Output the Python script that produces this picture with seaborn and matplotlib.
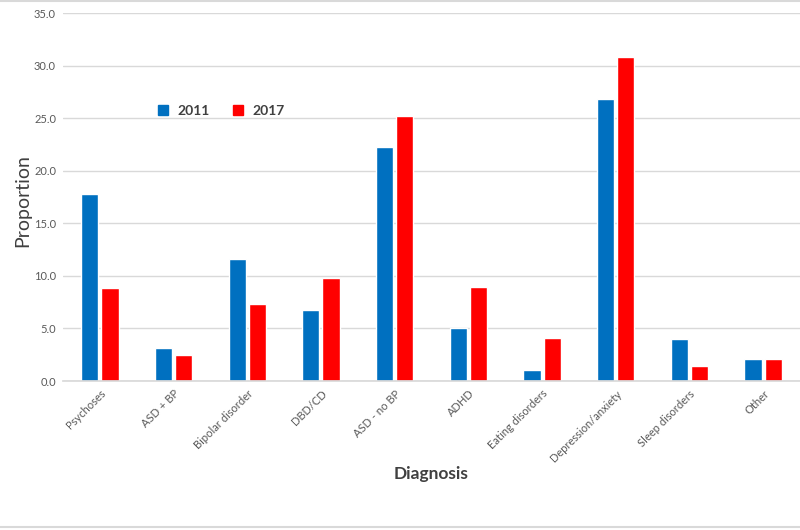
import matplotlib
matplotlib.use('Agg')
import matplotlib.pyplot as plt
import pandas as pd
import seaborn as sns
from matplotlib.lines import Line2D

# Values
diagnoses = ['Psychoses', 'ASD + BP', 'Bipolar disorder', 'DBD/CD', 'ASD - no BP',
             'ADHD', 'Eating disorders', 'Depression/anxiety', 'Sleep disorders', 'Other']
prop_2011 = [17.8, 3.1, 11.6, 6.8, 22.3, 5.0, 1.0, 26.8, 4.0, 2.1]
prop_2017 = [8.8, 2.5, 7.3, 9.8, 25.2, 8.9, 4.1, 30.8, 1.4, 2.1]
years = ['2011', '2017']
colors = ['#0070C0', '#FF0000']
y_ticks = [0, 5, 10, 15, 20, 25, 30, 35]

df = pd.DataFrame({
    'Diagnosis': diagnoses * 2,
    'Proportion': prop_2011 + prop_2017,
    'Year': [years[0]] * len(diagnoses) + [years[1]] * len(diagnoses),
})

sns.set_theme(style='white')
plt.rcParams['font.family'] = ['Lato', 'DejaVu Sans']

fig = plt.figure(figsize=(8, 5.3), dpi=100)
ax = fig.add_axes([63 / 800, 1 - 381 / 530, 737 / 800, 368 / 530])

sns.barplot(data=df, x='Diagnosis', y='Proportion', hue='Year',
            palette=colors, width=0.55, gap=0.15, saturation=1,
            legend=False, ax=ax)

ax.set_ylim(0, 35)
ax.set_xlim(-0.5, 9.5)
ax.set_yticks(y_ticks)
ax.set_yticklabels([f'{v:.1f}' for v in y_ticks], fontsize=8, color='#595959')
ax.set_xticks(range(len(diagnoses)))
ax.set_xticklabels(diagnoses, rotation=45, ha='right', rotation_mode='anchor',
                   fontsize=8, color='#595959')
ax.tick_params(axis='both', length=0, pad=5)
ax.yaxis.grid(True, color='#D9D9D9', linewidth=1)
ax.set_axisbelow(True)
for s in ['top', 'right', 'left']:
    ax.spines[s].set_visible(False)
ax.spines['bottom'].set_color('#D9D9D9')

ax.set_ylabel('Proportion', fontsize=14, color='#404040')
ax.yaxis.set_label_coords(-0.043, 0.49)
ax.set_xlabel('Diagnosis', fontsize=12.5, fontweight='bold', color='#404040')
ax.xaxis.set_label_coords(0.5, -0.232)

handles = [Line2D([], [], marker='s', linestyle='', color=c, markersize=7) for c in colors]
leg = ax.legend(handles, years, loc='center left', bbox_to_anchor=(0.1, 0.735),
                ncol=2, frameon=False, handletextpad=0.05, columnspacing=1.0,
                prop={'weight': 'bold', 'size': 10})
for t in leg.get_texts():
    t.set_color('#404040')

# thin border lines at the top and bottom of the image
fig.add_artist(Line2D([0, 1], [0.998, 0.998], color='#D9D9D9', linewidth=1.5))
fig.add_artist(Line2D([0, 1], [0.006, 0.006], color='#D9D9D9', linewidth=1.5))

fig.savefig('out.png', dpi=100)
